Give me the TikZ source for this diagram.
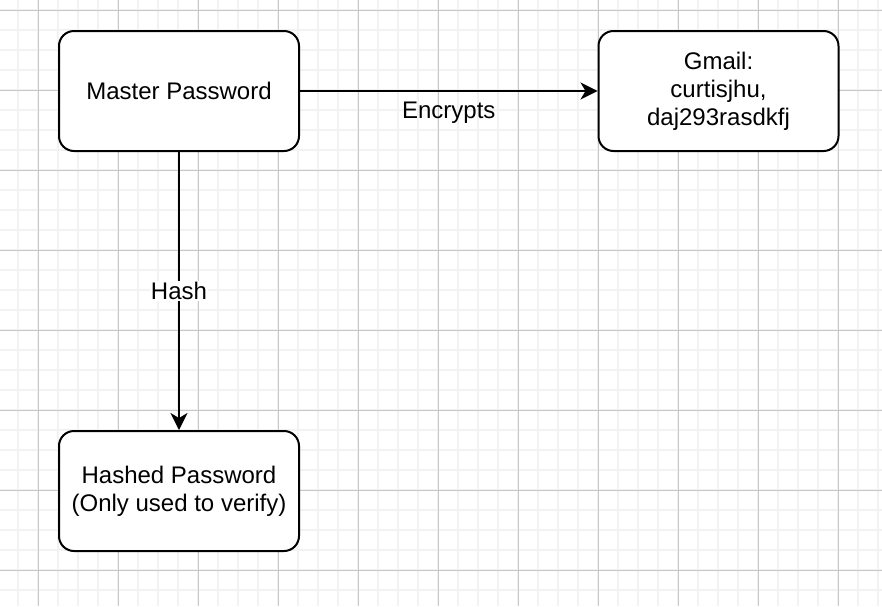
\documentclass[tikz,border=0pt]{standalone}
\usepackage{fontspec}
\setmainfont{Liberation Sans}
\usetikzlibrary{arrows.meta}
\begin{document}
\begin{tikzpicture}[x=1pt,y=-1pt,
        box/.style={draw,line width=2pt,rounded corners=15pt,fill=white,
            minimum width=240pt,minimum height=120pt,align=center,
            font=\fontsize{24}{28}\selectfont},
        lbl/.style={font=\fontsize{24}{28}\selectfont},
        arr/.style={line width=2pt,-{Stealth[length=17pt,width=17pt,inset=5pt]}},
        minorline/.style={line width=1.5pt,color=black!5},
        majorline/.style={line width=1pt,color=black!22}]
            \useasboundingbox (0,0) rectangle (882,606);
            % grid
            \foreach \gx in {18,38,...,878} \draw[minorline] (\gx,0) -- (\gx,606);
            \foreach \gy in {10,30,...,600} \draw[minorline] (0,\gy) -- (882,\gy);
            \foreach \gx in {38,118,...,878} \draw[majorline] (\gx,0) -- (\gx,606);
            \foreach \gy in {10,90,...,600} \draw[majorline] (0,\gy) -- (882,\gy);
            % boxes
            \node[box](master)at(179,91){Master Password};
            \node[box](gmail)at(718.5,91){Gmail:\\curtisjhu,\\daj293rasdkfj};
            \node[box](hashed)at(179,491){Hashed Password\\(Only used to verify)};
            % arrows
            \draw[arr](master)--(gmail)node[lbl,midway,yshift=-22pt]{Encrypts};
            \draw[arr](master)--(hashed)node[lbl,midway,fill=white,inner sep=1pt]{Hash};
        \end{tikzpicture}
\end{document}
